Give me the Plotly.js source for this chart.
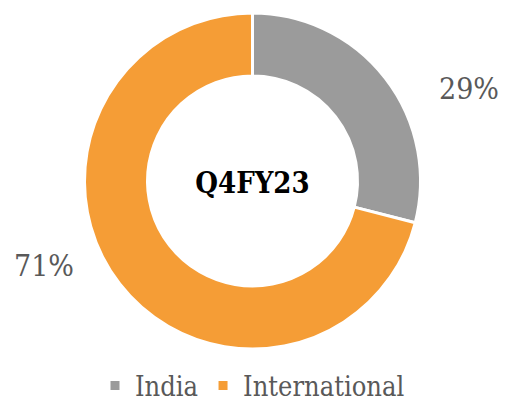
<!DOCTYPE html>
<html>
<head>
<meta charset="utf-8">
<script src="https://cdn.plot.ly/plotly-3.0.1.min.js"></script>
<style>html,body{margin:0;padding:0;background:#fff;}#chart{width:505px;height:403px;}</style>
</head>
<body>
<div id="chart"></div>
<script>
const categories = ["India", "International"];
const shares = [29, 71];
const sliceColors = ["#9B9B9B", "#F59D36"];
const centerLabel = "Q4FY23";

const FONT = "DejaVu Serif Condensed, DejaVu Serif, serif";
const total = shares.reduce((a, b) => a + b, 0);
const pctText = shares.map(v => Math.round(v / total * 100) + "%");

const trace = {
  type: "pie",
  labels: categories,
  values: shares,
  hole: 0.625,
  sort: false,
  direction: "clockwise",
  rotation: 0,
  textinfo: "none",
  hoverinfo: "label+percent",
  marker: { colors: sliceColors, line: { color: "#ffffff", width: 3 } },
  title: { text: "<b>" + centerLabel + "</b>", position: "middle center", font: { family: FONT, size: 29, color: "#000000" } },
  domain: { x: [0, 1], y: [54 / 403, 1 - 13 / 403] }
};

const layout = {
  width: 505, height: 403,
  margin: { l: 0, r: 0, t: 0, b: 0, autoexpand: false },
  paper_bgcolor: "#ffffff",
  showlegend: true,
  legend: {
    orientation: "h", x: 0.5, xanchor: "center", y: 1 - 386 / 403, yanchor: "middle",
    font: { family: FONT, size: 27, color: "#595959" },
    itemwidth: 30
  },
  annotations: [
    { xref: "paper", yref: "paper", x: 469 / 505, y: 1 - 89 / 403, xanchor: "center", yanchor: "middle",
      text: pctText[0], showarrow: false, font: { family: FONT, size: 30, color: "#595959" } },
    { xref: "paper", yref: "paper", x: 44 / 505, y: 1 - 265 / 403, xanchor: "center", yanchor: "middle",
      text: pctText[1], showarrow: false, font: { family: FONT, size: 30, color: "#595959" } }
  ]
};

Plotly.newPlot("chart", [trace], layout, { displayModeBar: false, staticPlot: true });
</script>
</body>
</html>
